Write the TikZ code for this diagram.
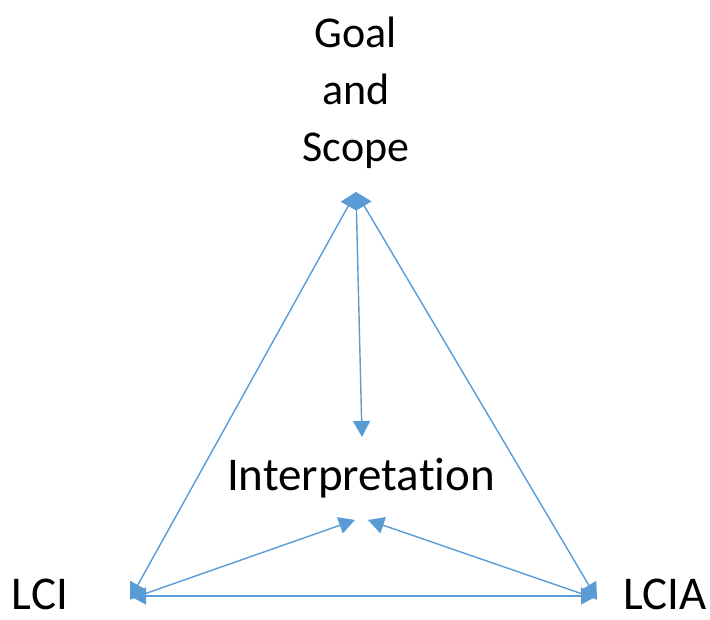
\documentclass[tikz,border=0pt]{standalone}
\usepackage{fontspec}
\setmainfont{Carlito}[Ligatures=NoCommon]
\usetikzlibrary{arrows.meta}
\definecolor{linkblue}{HTML}{5B9BD5}

\begin{document}
\begin{tikzpicture}[x=1pt,y=-1pt,
		every node/.style={align=center,inner sep=0pt},
		phase/.style={font=\fontsize{47}{56}\selectfont},
		tip/.tip={Triangle[length=16pt,width=17pt]},
		link/.style={draw=linkblue,line width=1.4pt,-tip},
		twoway/.style={link,tip-tip}]
		\useasboundingbox (0,0) rectangle (710,620);
		% the four phases
		\node[font=\fontsize{44}{57}\selectfont] (goal) at (356,93) {Goal\\and\\Scope};
		\node[phase,anchor=base] (interp) at (361,490) {Interpretation};
		\node[phase,anchor=base] (lci) at (40,609) {LCI};
		\node[phase,anchor=base] (lcia) at (665,609) {LCIA};
		% corners of the triangle
		\coordinate (top) at (356,192);
		\coordinate (left) at (130,599);
		\coordinate (right) at (597,599);
		\coordinate (in) at (362,437);
		\coordinate (inl) at (355,520);
		\coordinate (inr) at (368,520);
		\draw[twoway] (top) -- (left);
		\draw[twoway] (top) -- (right);
		\draw[twoway] ([yshift=3pt]left) -- ([yshift=3pt]right); % base line
		\draw[link] (top) -- (in);
		\draw[link] (left) -- (inl);
		\draw[link] (right) -- (inr);
	\end{tikzpicture}
\end{document}
